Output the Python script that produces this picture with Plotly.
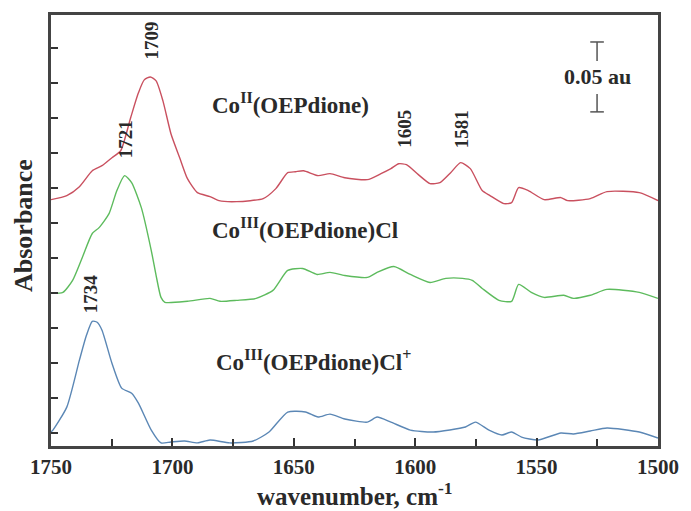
import plotly.graph_objects as go

# IR difference spectra of the cobalt octaethylporphyrin-dione complexes
# (absorbance in au, traces stacked with offsets)

wn_co2 = [1750, 1743.5, 1738.3, 1733.0, 1729.0, 1724.9, 1721.3, 1717.2, 1714.0, 1711.6,
          1709.1, 1706.7, 1703.9, 1700.6, 1697.0, 1693.8, 1689.7, 1684.5, 1680.8, 1673.5,
          1662.6, 1657.4, 1652.5, 1649.3, 1646.0, 1640.0, 1635.1, 1629.0, 1619.7, 1614.1,
          1610.0, 1606.8, 1603.6, 1598.7, 1593.9, 1589.8, 1585.4, 1581.3, 1577.3, 1572.4,
          1569.2, 1563.5, 1560.3, 1557.4, 1553.4, 1546.9, 1540.0, 1537.2, 1527.9, 1521.0,
          1507.7, 1500]
abs_co2 = [0.1667, 0.1696, 0.1760, 0.1874, 0.1910, 0.1967, 0.2017, 0.2253, 0.2431, 0.2524,
           0.2545, 0.2517, 0.2374, 0.2139, 0.1967, 0.1817, 0.1717, 0.1689, 0.1660, 0.1653,
           0.1675, 0.1746, 0.1860, 0.1867, 0.1874, 0.1839, 0.1853, 0.1824, 0.1810, 0.1853,
           0.1889, 0.1924, 0.1917, 0.1846, 0.1782, 0.1789, 0.1860, 0.1932, 0.1889, 0.1732,
           0.1696, 0.1639, 0.1646, 0.1753, 0.1732, 0.1667, 0.1682, 0.1660, 0.1675, 0.1725,
           0.1717, 0.1660]

wn_co3cl = [1750, 1745.1, 1741.1, 1737.1, 1733.0, 1730.2, 1726.1, 1722.9, 1719.7, 1716.8,
            1712.8, 1708.7, 1706.7, 1704.7, 1703.1, 1693.8, 1684.5, 1680.4, 1673.5, 1665.5,
            1658.6, 1652.5, 1646.4, 1640.4, 1635.1, 1629.0, 1619.7, 1615.7, 1608.8, 1602.0,
            1593.9, 1587.4, 1580.5, 1576.5, 1572.4, 1565.5, 1560.3, 1557.4, 1552.2, 1546.9,
            1538.8, 1534.8, 1527.9, 1521.0, 1507.7, 1500]
abs_co3cl = [0.0997, 0.1004, 0.1090, 0.1254, 0.1425, 0.1467, 0.1567, 0.1731, 0.1839, 0.1789,
             0.1610, 0.1303, 0.1124, 0.0968, 0.0933, 0.0940, 0.0961, 0.0940, 0.0947, 0.0961,
             0.1018, 0.1161, 0.1175, 0.1132, 0.1147, 0.1125, 0.1111, 0.1147, 0.1189, 0.1132,
             0.1075, 0.1104, 0.1104, 0.1090, 0.1032, 0.0947, 0.0940, 0.1061, 0.1004, 0.0968,
             0.0983, 0.0961, 0.0983, 0.1025, 0.1004, 0.0961]

wn_co3cl_ox = [1750, 1749.2, 1743.5, 1738.3, 1735.4, 1733.0, 1731.0, 1729.0, 1724.9, 1720.9,
               1716.8, 1714.0, 1708.7, 1704.7, 1700.6, 1695.0, 1689.7, 1684.5, 1676.4, 1666.7,
               1660.2, 1652.5, 1645.2, 1640.0, 1635.1, 1629.0, 1619.7, 1615.7, 1610.0, 1602.0,
               1592.6, 1579.3, 1575.2, 1569.6, 1564.3, 1560.3, 1556.2, 1549.4, 1540.0, 1534.8,
               1527.9, 1521.0, 1507.7, 1500]
abs_co3cl_ox = [0.0005, 0.0019, 0.0183, 0.0519, 0.0697, 0.0797, 0.0790, 0.0733, 0.0497, 0.0319,
                0.0283, 0.0212, 0.0019, -0.0073, -0.0066, -0.0059, -0.0073, -0.0052, -0.0073, -0.0059,
                0.0005, 0.0148, 0.0148, 0.0112, 0.0133, 0.0098, 0.0076, 0.0112, 0.0076, 0.0019,
                0.0005, 0.0041, 0.0076, 0.0019, -0.0016, 0.0005, -0.0031, -0.0052, -0.0002, -0.0009,
                0.0012, 0.0034, 0.0005, -0.0038]

# peak positions (cm-1) and label heights
peak_wn = [1709, 1721, 1734, 1605, 1581]
peak_label_y = [0.2802, 0.2102, 0.0997, 0.2174, 0.2174]
peak_label_shift = [0, 4, 0, 2, 0]

series_names = ["Co<sup>II</sup>(OEPdione)",
                "Co<sup>III</sup>(OEPdione)Cl",
                "Co<sup>III</sup>(OEPdione)Cl<sup>+</sup>"]
series_label_wn = [1684.5, 1684.5, 1682.8]
series_label_y = [0.2352, 0.1460, 0.0519]
colors = ["#c9505f", "#5dbb5d", "#5b87b5"]

scale_bar = 0.05          # au
scale_bar_top = 0.2795
scale_bar_wn = 1525.1

font_family = "Liberation Serif"
ink = "#2a2a2a"

fig = go.Figure()
for wn, ab, c, name in zip([wn_co2, wn_co3cl, wn_co3cl_ox],
                           [abs_co2, abs_co3cl, abs_co3cl_ox], colors, series_names):
    fig.add_trace(go.Scatter(x=wn, y=ab, mode="lines", name=name,
                             line=dict(color=c, width=1.4, shape="spline", smoothing=0.6),
                             showlegend=False))

annotations = []
for w, y, s in zip(peak_wn, peak_label_y, peak_label_shift):
    annotations.append(dict(x=w, y=y, xref="x", yref="y", text="<b>%d</b>" % w,
                            textangle=-90, showarrow=False, xshift=s,
                            font=dict(family=font_family, size=19, color=ink)))
for name, w, y in zip(series_names, series_label_wn, series_label_y):
    annotations.append(dict(x=w, y=y, xref="x", yref="y", text="<b>%s</b>" % name,
                            xanchor="left", yanchor="middle", showarrow=False,
                            font=dict(family=font_family, size=23, color=ink)))

annotations.append(dict(x=scale_bar_wn, y=scale_bar_top - scale_bar / 2, xref="x", yref="y",
                        text="<b>%.2f au</b>" % scale_bar, showarrow=False,
                        font=dict(family=font_family, size=22, color=ink)))
annotations.append(dict(x=0.5, y=-0.111, xref="paper", yref="paper",
                        xanchor="center", yanchor="middle",
                        text="<b>wavenumber, cm<sup>-1</sup></b>", showarrow=False,
                        font=dict(family=font_family, size=25, color=ink)))
annotations.append(dict(x=-0.0453, y=0.5116, xref="paper", yref="paper",
                        xanchor="center", yanchor="middle",
                        text="<b>Absorbance</b>", textangle=-90, showarrow=False,
                        font=dict(family=font_family, size=26, color=ink)))

# scale bar: two short segments with end caps around the label
cap = 2.8
bar_col = "#555555"
shapes = [
    dict(type="line", xref="x", yref="y", x0=scale_bar_wn, x1=scale_bar_wn,
         y0=scale_bar_top, y1=scale_bar_top - 0.0136, line=dict(color=bar_col, width=1.5)),
    dict(type="line", xref="x", yref="y", x0=scale_bar_wn, x1=scale_bar_wn,
         y0=scale_bar_top - scale_bar + 0.0128, y1=scale_bar_top - scale_bar,
         line=dict(color=bar_col, width=1.5)),
    dict(type="line", xref="x", yref="y", x0=scale_bar_wn - cap, x1=scale_bar_wn + cap,
         y0=scale_bar_top, y1=scale_bar_top, line=dict(color=bar_col, width=1.5)),
    dict(type="line", xref="x", yref="y", x0=scale_bar_wn - cap, x1=scale_bar_wn + cap,
         y0=scale_bar_top - scale_bar, y1=scale_bar_top - scale_bar,
         line=dict(color=bar_col, width=1.5)),
]

fig.update_layout(
    width=691, height=511,
    margin=dict(l=51, r=22, t=14, b=65),
    paper_bgcolor="white", plot_bgcolor="white",
    annotations=annotations, shapes=shapes,
    xaxis=dict(range=[1750, 1500], tickvals=[1750, 1700, 1650, 1600, 1550, 1500],
               ticktext=["<b>1750</b>", "<b>1700</b>", "<b>1650</b>", "<b>1600</b>",
                         "<b>1550</b>", "<b>1500</b>"],
               ticks="inside", ticklen=8, tickwidth=2, tickcolor="#333",
               minor=dict(dtick=25, tick0=1500, ticks="inside", ticklen=7, tickwidth=1.5,
                          tickcolor="#333"),
               showline=True, linecolor="#444", linewidth=2.5, mirror=True,
               showgrid=False, zeroline=False,
               tickfont=dict(family=font_family, size=21, color=ink)),
    yaxis=dict(range=[-0.0095, 0.2988], tick0=0, dtick=0.025, showticklabels=False,
               ticks="inside", ticklen=7, tickwidth=1.5, tickcolor="#333",
               showline=True, linecolor="#444", linewidth=2.5, mirror=True,
               showgrid=False, zeroline=False),
)

fig.write_html("out.html")
